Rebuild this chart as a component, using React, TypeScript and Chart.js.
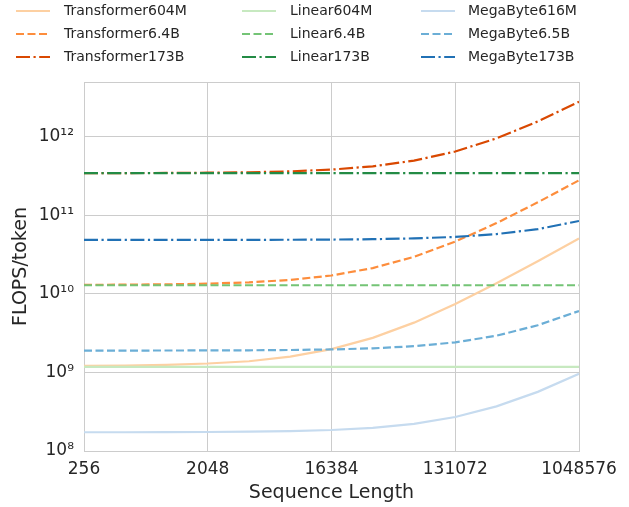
import React, { useEffect, useRef } from 'react';
import { Chart, registerables } from 'chart.js';

Chart.register(...registerables);

const FONT = '"DejaVu Sans", sans-serif';
const TEXT = '#262626';
const GRID = '#cccccc';

// Sequence lengths (x values)
const seqLens = [256, 512, 1024, 2048, 4096, 8192, 16384, 32768, 65536, 131072, 262144, 524288, 1048576];
const xTickValues = [256, 2048, 16384, 131072, 1048576];
const xTickLabels = ['256', '2048', '16384', '131072', '1048576'];
const yTickValues = [1e8, 1e9, 1e10, 1e11, 1e12];
const yTickLabels = ['10⁸', '10⁹', '10¹⁰', '10¹¹', '10¹²'];
const Y_MIN = 1e8;
const Y_MAX = 5e12;

// FLOPS/token series
const transformer604M = [1.21e9, 1.22e9, 1.25e9, 1.30e9, 1.39e9, 1.59e9, 1.98e9, 2.76e9, 4.31e9, 7.43e9, 1.37e10, 2.61e10, 5.1e10];
const transformer6_4B = [1.307e10, 1.313e10, 1.326e10, 1.352e10, 1.404e10, 1.509e10, 1.718e10, 2.136e10, 2.97e10, 4.64e10, 7.98e10, 1.467e11, 2.8e11];
const transformer173B = [3.456e11, 3.462e11, 3.474e11, 3.498e11, 3.546e11, 3.642e11, 3.83e11, 4.22e11, 4.98e11, 6.52e11, 9.58e11, 1.572e12, 2.8e12];
const linear604M = [1.18e9, 1.18e9, 1.18e9, 1.18e9, 1.18e9, 1.18e9, 1.18e9, 1.18e9, 1.18e9, 1.18e9, 1.18e9, 1.18e9, 1.18e9];
const linear6_4B = [1.29e10, 1.29e10, 1.29e10, 1.29e10, 1.29e10, 1.29e10, 1.29e10, 1.29e10, 1.29e10, 1.29e10, 1.29e10, 1.29e10, 1.29e10];
const linear173B = [3.45e11, 3.45e11, 3.45e11, 3.45e11, 3.45e11, 3.45e11, 3.45e11, 3.45e11, 3.45e11, 3.45e11, 3.45e11, 3.45e11, 3.45e11];
const megabyte616M = [1.732e8, 1.734e8, 1.738e8, 1.745e8, 1.76e8, 1.79e8, 1.85e8, 1.97e8, 2.22e8, 2.71e8, 3.7e8, 5.66e8, 9.6e8];
const megabyte6_5B = [1.901e9, 1.902e9, 1.904e9, 1.908e9, 1.916e9, 1.933e9, 1.965e9, 2.03e9, 2.16e9, 2.42e9, 2.94e9, 3.99e9, 6.07e9];
const megabyte173B = [4.871e10, 4.872e10, 4.874e10, 4.877e10, 4.884e10, 4.898e10, 4.927e10, 4.98e10, 5.1e10, 5.32e10, 5.78e10, 6.68e10, 8.5e10];

const seriesLabels = [
  'Transformer604M', 'Transformer6.4B', 'Transformer173B',
  'Linear604M', 'Linear6.4B', 'Linear173B',
  'MegaByte616M', 'MegaByte6.5B', 'MegaByte173B',
];
const seriesValues = [
  transformer604M, transformer6_4B, transformer173B,
  linear604M, linear6_4B, linear173B,
  megabyte616M, megabyte6_5B, megabyte173B,
];
const seriesColors = [
  '#fdd0a2', '#fd8d3c', '#d94801',
  '#c7e9c0', '#74c476', '#238b45',
  '#c6dbef', '#6baed6', '#2171b5',
];

const LW = 2.2;
const DASHES: number[][] = [[], [8, 3.5], [14, 3.5, 2.2, 3.5]];

export default function App() {
  const ref = useRef<HTMLCanvasElement>(null);

  useEffect(() => {
    if (!ref.current) return;

    const legendPlugin = {
      id: 'gridLegend',
      afterDraw(chart: any) {
        const ctx = chart.ctx;
        const cols = [
          { lineX: 16, textX: 64 },
          { lineX: 242, textX: 290 },
          { lineX: 421, textX: 468 },
        ];
        const rowY = [11, 34, 57];
        ctx.save();
        chart.data.datasets.forEach((ds: any, i: number) => {
          const col = Math.floor(i / 3);
          const row = i % 3;
          const y = rowY[row];
          ctx.strokeStyle = ds.borderColor;
          ctx.lineWidth = ds.borderWidth;
          ctx.lineCap = 'butt';
          ctx.setLineDash(ds.borderDash || []);
          ctx.beginPath();
          ctx.moveTo(cols[col].lineX, y);
          ctx.lineTo(cols[col].lineX + 34, y);
          ctx.stroke();
          ctx.setLineDash([]);
          ctx.fillStyle = TEXT;
          ctx.font = `14px ${FONT}`;
          ctx.textBaseline = 'middle';
          ctx.textAlign = 'left';
          ctx.fillText(ds.label, cols[col].textX, y);
        });
        ctx.restore();
      },
    };

    const chart = new Chart(ref.current, {
      type: 'line',
      data: {
        datasets: seriesLabels.map((label, i) => ({
          label,
          data: seqLens.map((x, j) => ({ x, y: seriesValues[i][j] })),
          borderColor: seriesColors[i],
          backgroundColor: seriesColors[i],
          borderWidth: LW,
          borderDash: DASHES[i % 3],
          pointRadius: 0,
          tension: 0,
          fill: false,
          order: seriesLabels.length - i,
        })),
      },
      options: {
        animation: false,
        responsive: false,
        devicePixelRatio: 1,
        layout: { padding: { top: 82, right: 50, left: 0, bottom: 0 } },
        plugins: {
          legend: { display: false },
          tooltip: { enabled: false },
        },
        scales: {
          x: {
            type: 'logarithmic',
            min: 256,
            max: 1048576,
            afterBuildTicks: (scale: any) => {
              scale.ticks = xTickValues.map((v) => ({ value: v }));
            },
            afterFit: (scale: any) => {
              scale.height = 56;
            },
            ticks: {
              autoSkip: false,
              maxRotation: 0,
              padding: 8,
              color: TEXT,
              font: { family: FONT, size: 17 },
              callback: (value: any) => {
                const idx = xTickValues.indexOf(Number(value));
                return idx >= 0 ? xTickLabels[idx] : '';
              },
            },
            grid: { color: GRID, lineWidth: 1, drawTicks: false },
            border: { color: GRID, width: 1 },
            title: {
              display: true,
              text: 'Sequence Length',
              color: TEXT,
              font: { family: FONT, size: 19 },
              padding: { top: 0, bottom: 3 },
            },
          },
          y: {
            type: 'logarithmic',
            min: Y_MIN,
            max: Y_MAX,
            afterBuildTicks: (scale: any) => {
              scale.ticks = [...yTickValues, Y_MAX].map((v) => ({ value: v }));
            },
            afterFit: (scale: any) => {
              scale.width = 84;
            },
            ticks: {
              autoSkip: false,
              padding: 10,
              color: TEXT,
              font: { family: FONT, size: 17 },
              callback: (value: any) => {
                const idx = yTickValues.indexOf(Number(value));
                return idx >= 0 ? yTickLabels[idx] : '';
              },
            },
            grid: { color: GRID, lineWidth: 1, drawTicks: false },
            border: { color: GRID, width: 1 },
            title: {
              display: true,
              text: 'FLOPS/token',
              color: TEXT,
              font: { family: FONT, size: 19 },
              padding: { top: 10, bottom: 0 },
            },
          },
        },
      } as any,
      plugins: [legendPlugin],
    });

    return () => chart.destroy();
  }, []);

  return (
    <div style={{ position: 'fixed', left: 0, top: 0, width: 629, height: 507, background: '#ffffff' }}>
      <canvas ref={ref} width={629} height={507} style={{ display: 'block' }} />
    </div>
  );
}
